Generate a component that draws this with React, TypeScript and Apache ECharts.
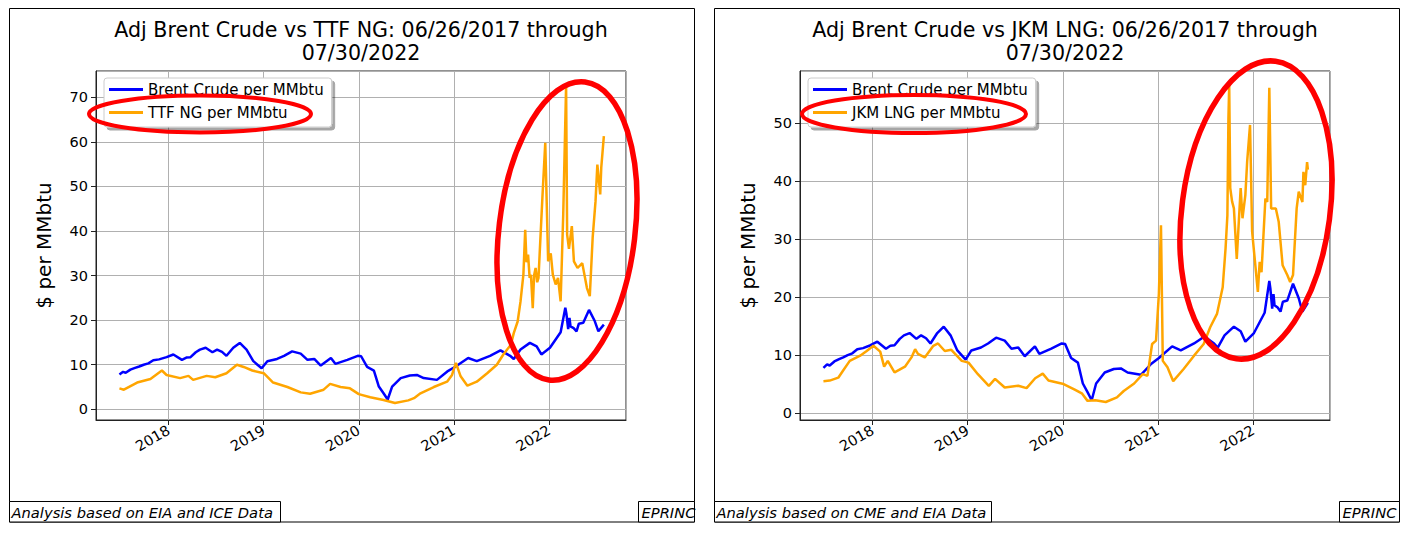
import { useRef, useEffect } from 'react'
import * as echarts from 'echarts'

// Adjusted Brent crude, $ per MMbtu (same series in both panels)
const brentPrices: [string, number][] = [
  ['2017-06-26', 7.8], ['2017-07-10', 8.4], ['2017-07-20', 8.2], ['2017-08-07', 8.9], ['2017-08-25', 9.3],
  ['2017-09-10', 9.6], ['2017-09-27', 10.0], ['2017-10-15', 10.3], ['2017-11-03', 11.0], ['2017-11-25', 11.2],
  ['2017-12-24', 11.7], ['2018-01-19', 12.3], ['2018-02-21', 11.1], ['2018-03-10', 11.6],
  ['2018-03-26', 11.7], ['2018-04-15', 12.8], ['2018-05-01', 13.4], ['2018-05-23', 13.8],
  ['2018-06-18', 12.8], ['2018-07-06', 13.4], ['2018-07-25', 12.9], ['2018-08-11', 12.0],
  ['2018-09-06', 13.8], ['2018-10-01', 14.9], ['2018-10-27', 13.4], ['2018-11-22', 10.8],
  ['2018-12-24', 9.2], ['2019-01-15', 10.8], ['2019-02-21', 11.3], ['2019-03-20', 12.0],
  ['2019-04-20', 13.0], ['2019-05-23', 12.5], ['2019-06-18', 11.1], ['2019-07-14', 11.3],
  ['2019-08-08', 9.8], ['2019-09-16', 11.5], ['2019-10-03', 10.2], ['2019-11-18', 11.1],
  ['2019-12-28', 12.0], ['2020-01-10', 11.9], ['2020-02-02', 9.5], ['2020-02-28', 8.7],
  ['2020-03-18', 5.1], ['2020-04-05', 3.6], ['2020-04-21', 2.2], ['2020-05-08', 5.1],
  ['2020-06-10', 7.0], ['2020-07-15', 7.6], ['2020-08-11', 7.7], ['2020-09-06', 7.0],
  ['2020-10-27', 6.6], ['2020-12-06', 8.5], ['2021-01-04', 9.5], ['2021-02-24', 11.5],
  ['2021-03-29', 10.8], ['2021-05-19', 12.0], ['2021-06-28', 13.2], ['2021-08-04', 12.0],
  ['2021-08-18', 11.3], ['2021-09-13', 13.4], ['2021-10-19', 14.9], ['2021-11-14', 14.1],
  ['2021-12-02', 12.3], ['2022-01-04', 13.8], ['2022-02-14', 17.3], ['2022-03-04', 22.8],
  ['2022-03-08', 21.5], ['2022-03-15', 18.0], ['2022-03-20', 20.5], ['2022-03-24', 18.6],
  ['2022-04-05', 18.2], ['2022-04-16', 17.5], ['2022-04-25', 19.2], ['2022-05-12', 19.4],
  ['2022-06-03', 22.3], ['2022-06-25', 19.8], ['2022-07-09', 17.5], ['2022-07-30', 19.0],
]

// TTF natural gas, $ per MMbtu
const ttfPrices: [string, number][] = [
  ['2017-06-26', 4.7], ['2017-07-13', 4.4], ['2017-09-02', 6.0], ['2017-10-23', 6.8],
  ['2017-12-06', 8.7], ['2017-12-24', 7.7], ['2018-02-14', 7.0], ['2018-03-18', 7.5],
  ['2018-04-05', 6.6], ['2018-05-27', 7.5], ['2018-06-29', 7.2], ['2018-08-11', 8.1],
  ['2018-09-20', 10.0], ['2018-10-16', 9.5], ['2018-11-18', 8.7], ['2019-01-01', 8.1],
  ['2019-02-06', 6.0], ['2019-04-02', 5.0], ['2019-05-23', 3.8], ['2019-06-28', 3.5],
  ['2019-08-19', 4.4], ['2019-09-13', 5.7], ['2019-10-23', 5.0], ['2019-11-28', 4.7],
  ['2020-01-01', 3.4], ['2020-02-14', 2.7], ['2020-04-05', 2.1], ['2020-05-19', 1.4],
  ['2020-07-09', 2.0], ['2020-07-31', 2.5], ['2020-08-25', 3.6], ['2020-10-15', 5.0],
  ['2020-12-05', 6.2], ['2020-12-24', 7.7], ['2021-01-08', 10.4], ['2021-01-26', 7.4],
  ['2021-02-21', 5.3], ['2021-03-29', 6.2], ['2021-05-08', 8.1], ['2021-06-14', 10.0],
  ['2021-07-09', 12.3], ['2021-08-07', 14.5], ['2021-08-18', 17.1], ['2021-09-02', 19.7],
  ['2021-09-13', 24.2], ['2021-09-24', 30.2], ['2021-10-01', 40.3], ['2021-10-06', 33.0],
  ['2021-10-12', 34.7], ['2021-10-18', 29.5], ['2021-10-23', 30.2], ['2021-10-30', 22.7],
  ['2021-11-04', 30.0], ['2021-11-10', 31.7], ['2021-11-16', 28.5], ['2021-11-21', 29.5],
  ['2021-12-06', 47.5], ['2021-12-17', 59.8], ['2021-12-28', 33.2], ['2022-01-07', 35.0],
  ['2022-01-15', 30.2], ['2022-01-26', 28.0], ['2022-02-04', 29.5], ['2022-02-14', 24.2],
  ['2022-02-24', 43.7], ['2022-03-07', 72.6], ['2022-03-11', 39.2], ['2022-03-18', 36.0],
  ['2022-03-29', 41.1], ['2022-04-06', 33.2], ['2022-04-20', 31.7], ['2022-05-08', 32.8],
  ['2022-05-26', 27.2], ['2022-06-06', 25.4], ['2022-06-17', 38.5], ['2022-06-28', 46.7],
  ['2022-07-05', 54.9], ['2022-07-16', 48.2], ['2022-07-20', 54.2], ['2022-07-30', 61.3],
]

// JKM LNG, $ per MMbtu
const jkmPrices: [string, number][] = [
  ['2017-06-26', 5.5], ['2017-07-20', 5.6], ['2017-08-22', 6.1], ['2017-09-09', 7.3],
  ['2017-10-05', 9.0], ['2017-11-14', 9.9], ['2017-12-09', 10.7], ['2018-01-04', 11.6],
  ['2018-01-30', 10.6], ['2018-02-14', 8.0], ['2018-02-28', 9.0], ['2018-03-26', 7.0],
  ['2018-05-05', 8.0], ['2018-05-30', 9.6], ['2018-06-13', 11.0], ['2018-06-24', 10.2],
  ['2018-07-20', 9.6], ['2018-08-22', 11.6], ['2018-09-09', 12.0], ['2018-10-05', 10.7],
  ['2018-10-30', 10.9], ['2018-12-09', 9.0], ['2019-01-04', 8.7], ['2019-02-09', 6.7],
  ['2019-03-23', 4.7], ['2019-04-16', 5.9], ['2019-05-23', 4.4], ['2019-07-14', 4.7],
  ['2019-08-15', 4.3], ['2019-09-17', 6.0], ['2019-10-16', 6.8], ['2019-11-07', 5.6],
  ['2020-01-04', 5.0], ['2020-02-14', 4.1], ['2020-03-14', 3.4], ['2020-04-05', 2.1],
  ['2020-05-05', 2.2], ['2020-06-14', 1.9], ['2020-07-27', 2.7], ['2020-08-22', 3.8],
  ['2020-10-01', 5.1], ['2020-11-03', 6.7], ['2020-11-21', 6.4], ['2020-12-09', 11.9],
  ['2020-12-24', 12.5], ['2021-01-04', 20.6], ['2021-01-12', 32.4], ['2021-01-19', 9.0],
  ['2021-02-06', 7.9], ['2021-02-28', 5.5], ['2021-04-09', 7.6], ['2021-05-19', 9.9],
  ['2021-06-25', 11.9], ['2021-07-20', 14.8], ['2021-08-15', 17.1], ['2021-09-06', 21.7],
  ['2021-09-17', 28.4], ['2021-09-24', 34.1], ['2021-09-28', 50.9], ['2021-10-01', 56.6],
  ['2021-10-05', 38.8], ['2021-10-12', 36.5], ['2021-10-19', 35.3], ['2021-10-30', 26.6],
  ['2021-11-14', 38.8], ['2021-11-21', 33.6], ['2021-12-02', 37.6], ['2021-12-09', 43.4],
  ['2021-12-20', 49.7], ['2021-12-28', 31.3], ['2022-01-08', 26.1], ['2022-01-19', 20.9],
  ['2022-01-26', 26.1], ['2022-02-02', 24.3], ['2022-02-17', 37.0], ['2022-02-24', 36.4],
  ['2022-03-04', 56.1], ['2022-03-11', 35.3], ['2022-03-29', 35.3], ['2022-04-09', 33.0],
  ['2022-04-24', 25.5], ['2022-05-12', 23.8], ['2022-05-23', 22.6], ['2022-06-03', 23.8],
  ['2022-06-17', 35.3], ['2022-06-25', 38.2], ['2022-07-09', 36.4], ['2022-07-13', 41.6],
  ['2022-07-20', 39.3], ['2022-07-27', 43.3], ['2022-07-30', 42.0],
]

const BRENT = 'Brent Crude per MMbtu'
const FONT = 'DejaVu Sans'
const YEAR_MS = 365 * 24 * 3600 * 1000

const panels = [
  {
    offset: 0, width: 685, plotLeft: 96, plotWidth: 530,
    title: 'Adj Brent Crude vs TTF NG: 06/26/2017 through\n07/30/2022',
    gasName: 'TTF NG per MMbtu', gasData: ttfPrices,
    yMin: -2.4, yMax: 75.9, splitNumber: 8,
    note: 'Analysis based on EIA and ICE Data', noteWidth: 271, brandWidth: 56,
    ring: { x: 567, y: 231, rx: 68, ry: 150, rot: -0.12 },
    legendRing: { x: 200, y: 114, rx: 111, ry: 18.5 },
  },
  {
    offset: 705, width: 685, plotLeft: 800, plotWidth: 530,
    title: 'Adj Brent Crude vs JKM LNG: 06/26/2017 through\n07/30/2022',
    gasName: 'JKM LNG per MMbtu', gasData: jkmPrices,
    yMin: -1.2, yMax: 59, splitNumber: 6,
    note: 'Analysis based on CME and EIA Data', noteWidth: 277, brandWidth: 60,
    ring: { x: 1256, y: 210, rx: 74, ry: 150, rot: -0.13 },
    legendRing: { x: 914, y: 114, rx: 112, ry: 19 },
  },
]

function yearLabel(value: number) {
  const d = new Date(value)
  return d.getMonth() === 0 && d.getDate() === 1 ? String(d.getFullYear()) : ''
}

function App() {
  const chartRef = useRef<HTMLDivElement>(null)

  useEffect(() => {
    if (!chartRef.current) return
    const chart = echarts.init(chartRef.current, null, { renderer: 'svg' })
    const xMin = new Date(2017, 2, 28).getTime()
    const xMax = new Date(2022, 9, 23).getTime()

    const graphic: any[] = []
    panels.forEach((p) => {
      const px = 9.5 + p.offset
      graphic.push(
        { type: 'rect', shape: { x: px, y: 8.5, width: p.width, height: 513.5 }, style: { fill: 'none', stroke: '#000', lineWidth: 1 } },
        { type: 'rect', shape: { x: px, y: 501.5, width: p.noteWidth, height: 20.5 }, style: { fill: '#fff', stroke: '#000', lineWidth: 1 } },
        { type: 'text', x: px + 2, y: 512, style: { text: p.note, font: `italic 14.7px "${FONT}"`, fill: '#000', textVerticalAlign: 'middle', verticalAlign: 'middle' } },
        { type: 'rect', shape: { x: px + p.width - p.brandWidth, y: 501.5, width: p.brandWidth, height: 20.5 }, style: { fill: '#fff', stroke: '#000', lineWidth: 1 } },
        { type: 'text', x: px + p.width - p.brandWidth + 3, y: 512, style: { text: 'EPRINC', font: `italic 14.7px "${FONT}"`, fill: '#000', textVerticalAlign: 'middle', verticalAlign: 'middle' } },
        {
          type: 'text', x: p.plotLeft + p.plotWidth / 2, y: 41.5,
          style: { text: p.title, font: `20.6px "${FONT}"`, lineHeight: 23, fill: '#000', textAlign: 'center', align: 'center', textVerticalAlign: 'middle', verticalAlign: 'middle' },
        },
        {
          type: 'ellipse', x: p.ring.x, y: p.ring.y, rotation: p.ring.rot, z: 100,
          shape: { cx: 0, cy: 0, rx: p.ring.rx, ry: p.ring.ry },
          style: { fill: 'none', stroke: '#ff0000', lineWidth: 5.5 },
        },
        {
          type: 'ellipse', x: p.legendRing.x, y: p.legendRing.y, z: 100,
          shape: { cx: 0, cy: 0, rx: p.legendRing.rx, ry: p.legendRing.ry },
          style: { fill: 'none', stroke: '#ff0000', lineWidth: 4 },
        },
      )
    })

    const option = {
      animation: false,
      textStyle: { fontFamily: FONT },
      graphic,
      grid: panels.map((p) => ({
        left: p.plotLeft, top: 71, width: p.plotWidth, height: 349,
        show: true, borderColor: '#222', borderWidth: 1, backgroundColor: 'transparent',
      })),
      legend: panels.map((p) => ({
        left: p.plotLeft + 8, top: 78, orient: 'vertical', selectedMode: false,
        data: [BRENT, p.gasName], icon: 'rect', itemWidth: 34, itemHeight: 3, itemGap: 8,
        padding: [4, 8, 7, 5], backgroundColor: '#fff', borderColor: '#ccc', borderWidth: 1,
        borderRadius: 3, shadowColor: 'rgba(0,0,0,0.35)', shadowBlur: 1, shadowOffsetX: 3, shadowOffsetY: 3,
        textStyle: { fontSize: 15, color: '#000', fontFamily: FONT },
      })),
      xAxis: panels.map((_, i) => ({
        type: 'time', gridIndex: i, min: xMin, max: xMax, minInterval: YEAR_MS, splitNumber: 5,
        axisLine: { show: true, onZero: false, lineStyle: { color: '#222' } },
        axisTick: { show: true, length: 5, lineStyle: { color: '#222' } },
        axisLabel: { rotate: 30, formatter: yearLabel, fontSize: 14.5, color: '#000', margin: 9, fontFamily: FONT, hideOverlap: false },
        splitLine: { show: true, lineStyle: { color: '#b0b0b0', width: 1 } },
      })),
      yAxis: panels.map((p, i) => ({
        type: 'value', gridIndex: i, min: p.yMin, max: p.yMax, splitNumber: p.splitNumber,
        name: '$ per MMbtu', nameLocation: 'middle', nameGap: 42, nameRotate: 90,
        nameTextStyle: { fontSize: 20, color: '#000', fontFamily: FONT },
        axisLine: { show: true, lineStyle: { color: '#222' } },
        axisTick: { show: true, length: 5, lineStyle: { color: '#222' } },
        axisLabel: { showMinLabel: false, showMaxLabel: false, fontSize: 14.5, color: '#000', margin: 8, fontFamily: FONT },
        splitLine: { show: true, lineStyle: { color: '#b0b0b0', width: 1 } },
      })),
      series: panels.flatMap((p, i) => [
        {
          name: BRENT, type: 'line', xAxisIndex: i, yAxisIndex: i, data: brentPrices,
          showSymbol: false, lineStyle: { color: '#0000ff', width: 2.5 }, itemStyle: { color: '#0000ff' },
        },
        {
          name: p.gasName, type: 'line', xAxisIndex: i, yAxisIndex: i, data: p.gasData,
          showSymbol: false, lineStyle: { color: '#ffa500', width: 2.5 }, itemStyle: { color: '#ffa500' },
        },
      ]),
    }
    chart.setOption(option)

    return () => {
      chart.dispose()
    }
  }, [])

  return (
    <div ref={chartRef} style={{ position: 'fixed', left: 0, top: 0, width: '1411px', height: '534px', background: '#fff' }}></div>
  )
}

export default App
